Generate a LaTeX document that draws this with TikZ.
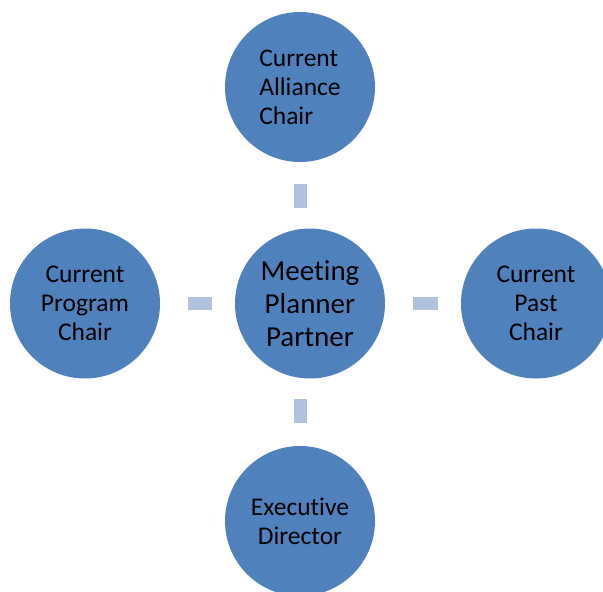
\documentclass[tikz,border=0pt]{standalone}
\usepackage{fontspec}
\setmainfont[Ligatures = NoCommon]{Carlito}
\definecolor{chairBlue}{RGB}{79,129,189}
\definecolor{linkBlue}{RGB}{176,193,220}

\begin{document}
\begin{tikzpicture}[x = 1pt, y = -1pt]
\tikzstyle{chairStyle}=[shape = circle, minimum size = 150pt, inner sep = 0pt, fill = chairBlue, align = center, font = \fontsize{25.5}{29}\selectfont]
\tikzstyle{hubStyle}=[chairStyle, font = \fontsize{29}{33}\selectfont]
\tikzstyle{linkStyle}=[draw = linkBlue, line width = 13pt]
\useasboundingbox (0,0) rectangle (603,592);
\clip (0,0) rectangle (603,592);
\node[hubStyle] (v0) at (310,303.5) {Meeting\\Planner\\Partner};
\node[chairStyle, align = left] (v1) at (300,87) {Current\\Alliance\\Chair};
\node[chairStyle] (v2) at (85,303.5) {Current\\Program\\Chair};
\node[chairStyle] (v3) at (536,303.5) {Current\\Past\\Chair};
\node[chairStyle] (v4) at (300,521) {Executive\\Director};
\draw[linkStyle, shorten <= 22pt, shorten >= 20pt] (v1.south) -- (v1.south |- v0.north);
\draw[linkStyle, shorten <= 23pt, shorten >= 28pt] (v0) -- (v2);
\draw[linkStyle, shorten <= 28pt, shorten >= 23pt] (v0) -- (v3);
\draw[linkStyle, shorten <= 20pt, shorten >= 23pt] (v4.north |- v0.south) -- (v4.north);
\end{tikzpicture}
\end{document}
